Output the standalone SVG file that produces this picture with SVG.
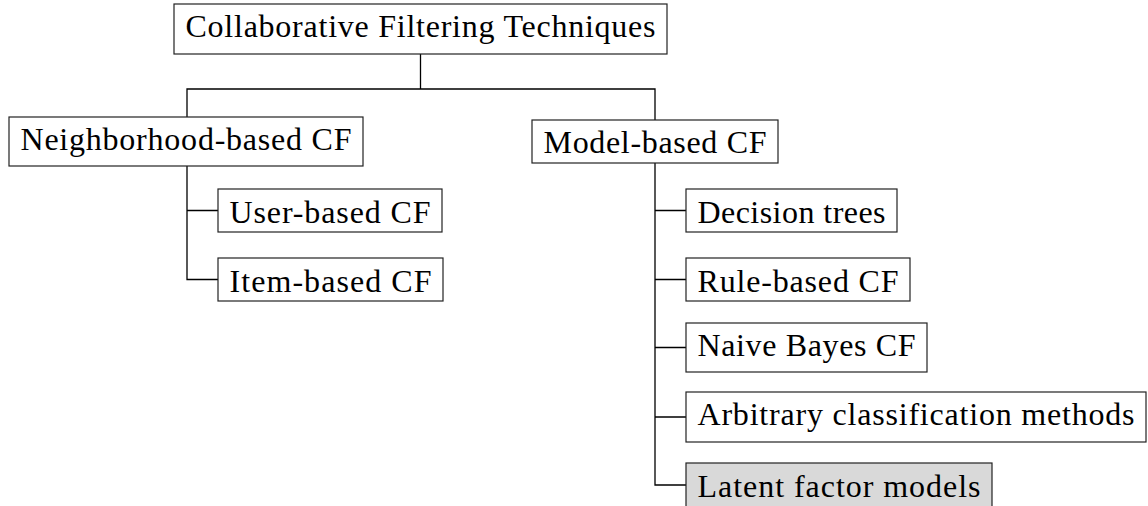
<svg xmlns="http://www.w3.org/2000/svg" width="1148" height="506" viewBox="0 0 1148 506">
<style>
.box{fill:#fff;stroke:#222;stroke-width:1.2}
.hl{fill:#d9d9d9}
.t{font-family:"Liberation Serif","Times New Roman",serif;font-size:32px;fill:#000}
.c{fill:none;stroke:#000;stroke-width:1.3}
</style>
<rect width="1148" height="506" fill="#fff"/>
<g id="connectors">
<path class="c" d="M420.5 54V89M187 117V89H655V120"/>
<path class="c" d="M187 166V279.5H218M187 210.5H218"/>
<path class="c" d="M655 163V485H686M655 210.5H686M655 279.5H686M655 347.5H686M655 417H686"/>
</g>
<g id="root"><rect class="box" x="174" y="4" width="493" height="50"/><text class="t" x="185.5" y="37" textLength="470" lengthAdjust="spacing">Collaborative Filtering Techniques</text></g>
<g id="neighborhood"><rect class="box" x="9" y="117" width="354" height="49"/><text class="t" x="20.5" y="150" textLength="331" lengthAdjust="spacing">Neighborhood-based CF</text></g>
<g id="model"><rect class="box" x="532" y="120" width="246" height="43"/><text class="t" x="543.5" y="153" textLength="223" lengthAdjust="spacing">Model-based CF</text></g>
<g id="user"><rect class="box" x="218" y="189" width="224" height="43"/><text class="t" x="229.5" y="222.5" textLength="201" lengthAdjust="spacing">User-based CF</text></g>
<g id="item"><rect class="box" x="218" y="258" width="225" height="43"/><text class="t" x="229.5" y="291.5" textLength="202" lengthAdjust="spacing">Item-based CF</text></g>
<g id="decision"><rect class="box" x="686" y="189" width="211" height="43"/><text class="t" x="697.5" y="222.5" textLength="188" lengthAdjust="spacing">Decision trees</text></g>
<g id="rule"><rect class="box" x="686" y="258" width="224" height="43"/><text class="t" x="697.5" y="291.5" textLength="201" lengthAdjust="spacing">Rule-based CF</text></g>
<g id="naive"><rect class="box" x="686" y="323" width="241" height="49"/><text class="t" x="697.5" y="356" textLength="218" lengthAdjust="spacing">Naive Bayes CF</text></g>
<g id="arbitrary"><rect class="box" x="686" y="392" width="460" height="50"/><text class="t" x="697.5" y="425" textLength="437" lengthAdjust="spacing">Arbitrary classification methods</text></g>
<g id="latent"><rect class="box hl" x="686" y="463" width="306" height="46"/><text class="t" x="697.5" y="496.5" textLength="283" lengthAdjust="spacing">Latent factor models</text></g>
</svg>
